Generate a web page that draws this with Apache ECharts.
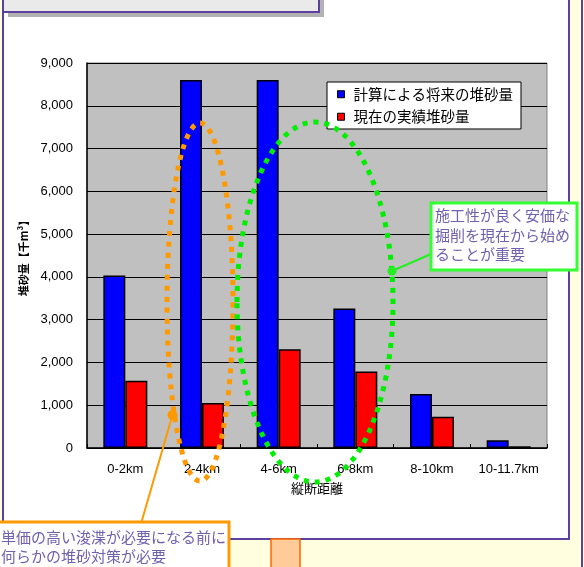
<!DOCTYPE html>
<html>
<head>
<meta charset="utf-8">
<script src="https://cdn.jsdelivr.net/npm/echarts@6/dist/echarts.min.js"></script>
<style>
  html, body { margin: 0; padding: 0; background: #ffffe0; }
  #chart { width: 584px; height: 567px; }
</style>
</head>
<body>
<div id="chart"></div>
<script>
// 区間
const categories = ["0-2km", "2-4km", "4-6km", "6-8km", "8-10km", "10-11.7km"];
// 計算による将来の堆砂量 / 現在の実績堆砂量 (千m3)
const futureVals = [4030, 8600, 8600, 3260, 1260, 180];
const actualVals = [1570, 1050, 2310, 1790, 730, 40];
const seriesNames = ["計算による将来の堆砂量", "現在の実績堆砂量"];

const purple = "#5d3f9d";
const noteColor = "#7060ae";
const jp = "'Noto Sans CJK JP', sans-serif";

const chart = echarts.init(document.getElementById("chart"));

chart.setOption({
  animation: false,
  textStyle: { fontFamily: jp },
  grid: {
    left: 87,
    right: 37,
    top: 63,
    bottom: 119,
    show: true,
    backgroundColor: "#c0c0c0",
    borderColor: "#808080",
    borderWidth: 1,
  },
  legend: {
    orient: "vertical",
    left: 327,
    top: 82,
    data: seriesNames,
    icon: "rect",
    itemWidth: 7,
    itemHeight: 7,
    itemGap: 8,
    padding: [5, 8, 5, 10],
    backgroundColor: "#fff",
    borderColor: "#000",
    borderWidth: 1,
    borderRadius: 0,
    itemStyle: { borderColor: "#000", borderWidth: 1 },
    textStyle: {
      fontSize: 14.5,
      lineHeight: 14,
      color: "#000",
      padding: [0, 0, 0, 4],
      fontFamily: jp,
    },
  },
  xAxis: {
    type: "category",
    data: categories,
    name: "縦断距離",
    nameLocation: "middle",
    nameGap: 34,
    nameTextStyle: { fontSize: 13, color: "#000" },
    axisLine: { lineStyle: { color: "#000", width: 1.5 } },
    axisTick: { show: true, inside: true, length: 4, lineStyle: { color: "#000" } },
    axisLabel: {
      interval: 0,
      hideOverlap: false,
      fontSize: 13,
      color: "#000",
      margin: 15,
      fontFamily: "'Liberation Sans', sans-serif",
    },
  },
  yAxis: {
    type: "value",
    min: 0,
    max: 9000,
    interval: 1000,
    name: "堆砂量【千m³】",
    nameLocation: "middle",
    nameRotate: 90,
    nameGap: 58,
    nameTextStyle: { fontSize: 11, color: "#000", fontWeight: "bold" },
    axisLine: { show: true, lineStyle: { color: "#000", width: 1.5 } },
    axisTick: { show: false },
    axisLabel: {
      fontSize: 13,
      color: "#000",
      margin: 14,
      fontFamily: "'Liberation Sans', sans-serif",
      formatter: (v) => v.toLocaleString("en-US"),
    },
    splitLine: { lineStyle: { color: "#000", width: 1 } },
  },
  series: [
    {
      name: seriesNames[0],
      type: "bar",
      data: futureVals,
      barWidth: 22,
      barGap: "0%",
      itemStyle: { color: "#0000ff", borderColor: "#000", borderWidth: 1.5 },
    },
    {
      name: seriesNames[1],
      type: "bar",
      data: actualVals,
      barWidth: 22,
      itemStyle: { color: "#ff0000", borderColor: "#000", borderWidth: 1.5 },
    },
  ],
  graphic: [
    // 背景の枠
    { type: "line", z: -20, shape: { x1: 582, y1: 0, x2: 582, y2: 567 }, style: { stroke: purple, lineWidth: 2 } },
    { type: "rect", z: -20, shape: { x: 3, y: -5, width: 566, height: 544 }, style: { fill: "#fff", stroke: purple, lineWidth: 2 } },
    { type: "rect", z: -19, shape: { x: 8, y: -5, width: 316, height: 22 }, style: { fill: "#b2b2b2" } },
    { type: "rect", z: -18, shape: { x: 3, y: -5, width: 316, height: 17 }, style: { fill: "#eaeaea", stroke: purple, lineWidth: 2 } },
    { type: "rect", z: -18, shape: { x: 271, y: 539, width: 29, height: 40 }, style: { fill: "#ffcc99", stroke: "#ff6600", lineWidth: 1.5 } },
    // 楕円
    {
      type: "ellipse", z: 100,
      shape: { cx: 200, cy: 302, rx: 33, ry: 179 },
      style: { fill: null, stroke: "#ff9900", lineWidth: 5, lineDash: [5, 6] },
    },
    {
      type: "ellipse", z: 100,
      shape: { cx: 315, cy: 302, rx: 78, ry: 180 },
      style: { fill: null, stroke: "#00ee00", lineWidth: 5, lineDash: [5, 6] },
    },
    // 吹き出し（緑）
    { type: "line", z: 101, shape: { x1: 392, y1: 271, x2: 431, y2: 254 }, style: { stroke: "#22ee22", lineWidth: 2 } },
    { type: "circle", z: 101, shape: { cx: 392, cy: 271, r: 4.5 }, style: { fill: "#22ee22" } },
    { type: "rect", z: 101, shape: { x: 431, y: 203, width: 146, height: 67 }, style: { fill: "#fff", stroke: "#33ff33", lineWidth: 3 } },
    {
      type: "text", z: 102, left: 435, top: 206,
      style: { text: "施工性が良く安価な\n掘削を現在から始め\nることが重要", fill: noteColor, fontSize: 15, lineHeight: 19.5, fontFamily: jp },
    },
    // 吹き出し（オレンジ）
    { type: "line", z: 101, shape: { x1: 172.5, y1: 415, x2: 141.5, y2: 522 }, style: { stroke: "#ff9900", lineWidth: 2 } },
    { type: "circle", z: 101, shape: { cx: 172.5, cy: 415, r: 5 }, style: { fill: "#ff9900" } },
    { type: "rect", z: 101, shape: { x: -3, y: 522, width: 232, height: 50 }, style: { fill: "#fff", stroke: "#ff9900", lineWidth: 3 } },
    {
      type: "text", z: 102, left: 1, top: 528,
      style: { text: "単価の高い浚渫が必要になる前に\n何らかの堆砂対策が必要", fill: noteColor, fontSize: 15, lineHeight: 19, fontFamily: jp },
    },
  ],
});
</script>
</body>
</html>
